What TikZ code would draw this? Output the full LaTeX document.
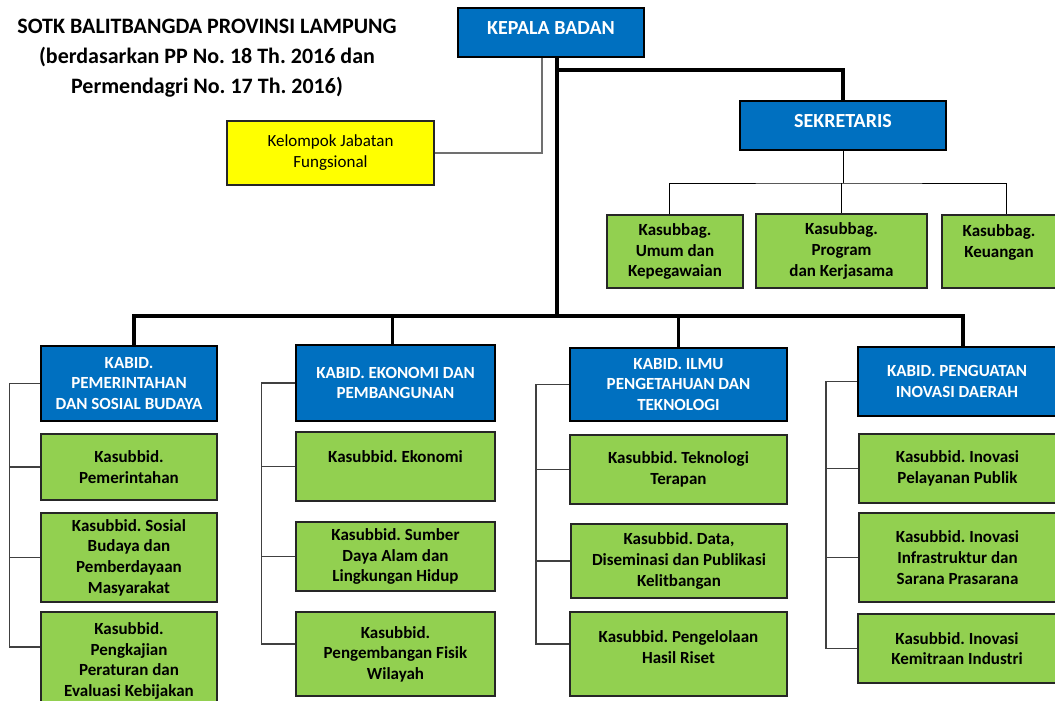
\documentclass[tikz,border=0pt]{standalone}
\usepackage{fontspec}
\setmainfont{Carlito}
\usepackage{xcolor}
\usepackage{tikz}
\usetikzlibrary{positioning}
\newcommand{\boxfont}{\bfseries\fontsize{17}{20.6}\selectfont}
\definecolor{headblue}{HTML}{0070C0}
\definecolor{subgreen}{HTML}{92D050}
\definecolor{fungyellow}{HTML}{FFFF00}
\definecolor{railgray}{HTML}{404040}
\definecolor{fungline}{HTML}{707070}
\frenchspacing

\begin{document}
\begin{tikzpicture}[
  x=1pt,y=-1pt,
  head/.style={draw=black,line width=2.6pt,fill=headblue,text=white,
               font=\boxfont,align=center,inner sep=0pt},
  top/.style={head,font=\bfseries\fontsize{20}{24}\selectfont},
  unit/.style={draw=black!85,line width=1.6pt,fill=subgreen,
               font=\boxfont,align=center,inner sep=0pt},
  fung/.style={draw=black!85,line width=1.4pt,fill=fungyellow,align=center,
               inner sep=0pt,font=\fontsize{17}{21}\selectfont},
  trunk/.style={black,line width=3.2pt},
  sublink/.style={black,line width=1pt},
  link/.style={railgray,line width=1.5pt},
  flink/.style={fungline,line width=1.5pt}
]
\useasboundingbox (0,0) rectangle (1055,701);
\clip (0,0) rectangle (1055,701);

% title
\node[font=\bfseries\fontsize{22}{30}\selectfont,align=center] (judul) at (207,58)
  {SOTK BALITBANGDA PROVINSI LAMPUNG\\
   (berdasarkan PP No. 18 Th. 2016 dan\\
   Permendagri No. 17 Th. 2016)};

% top level
\node[top,minimum width=186,minimum height=49,text depth=9pt] (kepala) at (551,32.5) {KEPALA BADAN};
\node[top,minimum width=206,minimum height=49,text depth=9pt] (sekr) at (843,125.5) {SEKRETARIS};
\node[fung,minimum width=207,minimum height=64] (kjf) at (330.5,153)
  {Kelompok Jabatan\\ Fungsional};

% sekretariat
\node[unit,minimum width=136,minimum height=73] (umum) at (675,251.5)
  {Kasubbag.\\ Umum dan\\ Kepegawaian};
\node[unit,minimum width=171,minimum height=74] (prog) at (841.5,251)
  {Kasubbag.\\ Program\\ dan Kerjasama};
\node[unit,minimum width=114,minimum height=73,text depth=21pt] (keu) at (999,251.5)
  {Kasubbag.\\ Keuangan};

% bidang
\node[head,minimum width=176,minimum height=75] (kabA) at (129,383.5)
  {KABID.\\ PEMERINTAHAN\\ DAN SOSIAL BUDAYA};
\node[head,minimum width=199,minimum height=76] (kabB) at (395.5,383)
  {KABID. EKONOMI DAN\\ PEMBANGUNAN};
\node[head,minimum width=217,minimum height=73] (kabC) at (678.5,384.5)
  {KABID. ILMU\\ PENGETAHUAN DAN\\ TEKNOLOGI};
\node[head,minimum width=198,minimum height=69] (kabD) at (957,381.5)
  {KABID. PENGUATAN\\ INOVASI DAERAH};

% sub bidang
\node[unit,minimum width=176,minimum height=66] (subA1) at (129,467)
  {Kasubbid.\\ Pemerintahan};
\node[unit,minimum width=176,minimum height=89] (subA2) at (129,557.5)
  {Kasubbid. Sosial\\ Budaya dan\\ Pemberdayaan\\ Masyarakat};
\node[unit,minimum width=176,minimum height=98] (subA3) at (129,661)
  {Kasubbid.\\ Pengkajian\\ Peraturan dan\\ Evaluasi Kebijakan};

\node[unit,minimum width=199,minimum height=69,text depth=19pt] (subB1) at (395.5,466.5)
  {Kasubbid. Ekonomi};
\node[unit,minimum width=199,minimum height=69] (subB2) at (395.5,556.5)
  {Kasubbid. Sumber\\ Daya Alam dan\\ Lingkungan Hidup};
\node[unit,minimum width=199,minimum height=84] (subB3) at (395.5,654)
  {Kasubbid.\\ Pengembangan Fisik\\ Wilayah};

\node[unit,minimum width=217,minimum height=69] (subC1) at (678.5,469.5)
  {Kasubbid. Teknologi\\ Terapan};
\node[unit,minimum width=216,minimum height=74] (subC2) at (679,561)
  {Kasubbid. Data,\\ Diseminasi dan Publikasi\\ Kelitbangan};
\node[unit,minimum width=217,minimum height=84,text depth=14pt] (subC3) at (678.5,654)
  {Kasubbid. Pengelolaan\\ Hasil Riset};

\node[unit,minimum width=197,minimum height=69] (subD1) at (957.5,468.5)
  {Kasubbid. Inovasi\\ Pelayanan Publik};
\node[unit,minimum width=197,minimum height=89] (subD2) at (957.5,557.5)
  {Kasubbid. Inovasi\\ Infrastruktur dan\\ Sarana Prasarana};
\node[unit,minimum width=198,minimum height=69] (subD3) at (957,648.5)
  {Kasubbid. Inovasi\\ Kemitraan Industri};

% main lines
\coordinate (hub) at (557,70);
\coordinate (bus) at (557,316);
\draw[trunk] (kepala.south -| hub) -- (bus);
\draw[trunk] (hub) -| (sekr.north);
\draw[trunk] ([xshift=5]kabA.north) |- (bus) -| ([xshift=6]kabD.north);
\draw[trunk] ([xshift=-3]kabB.north) -- ([xshift=-3]kabB.north |- bus);
\draw[trunk] (kabC.north) -- (kabC.north |- bus);

\draw[flink] ([xshift=-9]kepala.south) |- (kjf.east);

% sekretariat lines
\coordinate (sekbus) at (840,183);
\draw[sublink] (sekr.south) -- (sekr.south |- sekbus);
\draw[sublink] ([xshift=-6]umum.north) |- (sekbus) -| ([xshift=7]keu.north);
\draw[sublink] (prog.north) -- (prog.north |- sekbus);

% bidang rails
\coordinate (railA) at (9.5,0);
\coordinate (railB) at (261.5,0);
\coordinate (railC) at (536,0);
\coordinate (railD) at (826,0);
\draw[link] (kabA.west) -- (kabA.west -| railA) |- ([yshift=14]subA3.west);
\draw[link] (subA1.west -| railA) -- (subA1.west);
\draw[link] (subA2.west -| railA) -- (subA2.west);
\draw[link] (kabB.west) -- (kabB.west -| railB) |- ([yshift=10]subB3.west);
\draw[link] (subB1.west -| railB) -- (subB1.west);
\draw[link] (subB2.west -| railB) -- (subB2.west);
\draw[link] (kabC.west) -- (kabC.west -| railC) |- ([yshift=10]subC3.west);
\draw[link] (subC1.west -| railC) -- (subC1.west);
\draw[link] (subC2.west -| railC) -- (subC2.west);
\draw[link] (kabD.west) -- (kabD.west -| railD) |- (subD3.west);
\draw[link] (subD1.west -| railD) -- (subD1.west);
\draw[link] (subD2.west -| railD) -- (subD2.west);
\end{tikzpicture}
\end{document}
